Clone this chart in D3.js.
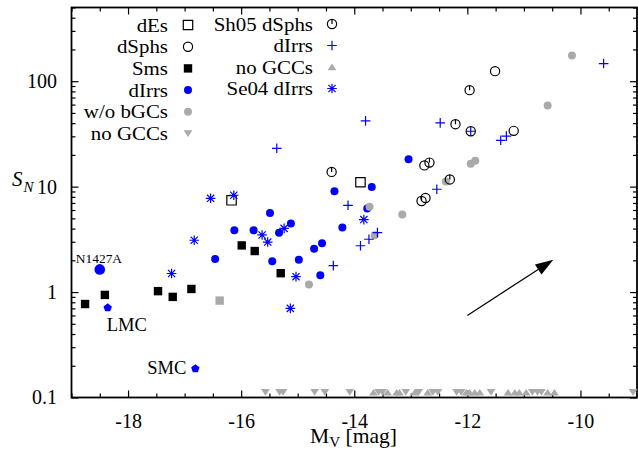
<!DOCTYPE html>
<html>
<head>
<meta charset="utf-8">
<script src="https://cdn.jsdelivr.net/npm/d3@7"></script>
<style>
  body { margin: 0; background: #fff; }
  svg text { font-family: "Liberation Serif", "Times New Roman", serif; fill: #000; }
</style>
</head>
<body>
<div id="chart"></div>
<script>
// each point is [M_V, S_N]
var dEs = [[-16.17, 7.42], [-13.89, 11.0]];
var dSphs = [[-11.51, 124.5], [-11.18, 33.8], [-11.94, 33.5], [-12.74, 7.8], [-12.76, 15.9]];
var sms = [[-18.76, 0.77], [-18.41, 0.94], [-17.47, 1.02], [-17.21, 0.90], [-16.88, 1.07],
           [-15.99, 2.77], [-15.76, 2.45], [-15.30, 1.51]];
var smsGrey = [[-16.38, 0.83]];
var dIrrs = [[-16.46, 2.06], [-16.12, 3.85], [-15.78, 3.85], [-15.49, 5.62], [-15.45, 1.96],
             [-15.33, 3.65], [-15.12, 4.46], [-14.98, 2.02], [-14.71, 2.58], [-14.57, 2.91],
             [-14.60, 1.44], [-14.21, 4.09], [-14.35, 9.03], [-13.77, 6.19], [-13.69, 9.93],
             [-13.04, 18.2]];
var n1427a = [[-18.50, 1.64]];
var magClouds = [[-18.36, 0.71, "LMC"], [-16.81, 0.1875, "SMC"]];
var woBGCs = [[-14.80, 1.18], [-13.73, 6.44], [-13.64, 3.45], [-13.15, 5.43], [-12.38, 11.2],
              [-11.94, 16.5], [-11.86, 17.6], [-10.58, 58.8], [-10.15, 175]];
var noGCCsDown = [-15.57, -15.32, -15.26, -14.70, -14.52, -14.08, -13.57, -13.50, -13.09,
                  -12.86, -12.61, -12.52, -12.19, -12.11, -11.58, -10.85, -10.76, -10.69, -9.07];
var noGCCsUp = [-13.66, -13.41, -13.25, -13.20, -12.93, -12.70, -12.02, -11.96, -11.87,
                -11.78, -11.28, -11.16, -11.08, -10.96, -10.58, -10.46];
var noGCCsLevel = 0.112;
var sh05 = [[-14.40, 13.8], [-12.81, 7.3], [-12.67, 16.9], [-12.31, 11.7], [-12.21, 39.1], [-11.96, 82.2]];
var dIrrsPlus = [[-15.37, 23.1], [-13.80, 42.0], [-12.48, 40.2], [-11.94, 33.5], [-11.41, 27.5],
                 [-11.31, 30.1], [-9.59, 147], [-14.11, 6.65], [-12.54, 9.44], [-13.89, 2.75],
                 [-13.74, 3.17], [-13.59, 3.66], [-14.37, 1.78]];
var se04 = [[-16.54, 7.75], [-16.13, 8.28], [-16.83, 3.10], [-17.23, 1.50], [-15.63, 3.48],
            [-15.53, 2.98], [-15.24, 4.02], [-15.03, 1.40], [-15.13, 0.70], [-13.83, 4.87]];
var arrow = [[-12.0, 0.60], [-10.48, 2.03]];

var legendLeft = ["dEs", "dSphs", "Sms", "dIrrs", "w/o bGCs", "no GCCs"];
var legendRight = ["Sh05 dSphs", "dIrrs", "no GCCs", "Se04 dIrrs"];

var xMajor = [-18, -16, -14, -12, -10];
var yMajor = [0.1, 1, 10, 100];

var W = 638, H = 449;
var blue = "#0000ff", grey = "#aaaaaa";

var svg = d3.select("#chart").append("svg").attr("width", W).attr("height", H);

var x = d3.scaleLinear().domain([-19, -9]).range([71.5, 637]);
var y = d3.scaleLog().domain([0.1, 500]).range([397.5, 7.5]);

// ticks
var xMinor = d3.range(-19, -9, 0.5).filter(function(v) { return xMajor.indexOf(v) < 0; });
var yMinor = [];
yMajor.forEach(function(d) {
  for (var k = 2; k <= 9; k++) if (d * k <= 500) yMinor.push(d * k);
});

function tickAxis(gen, scale, vals, size, tx, ty, labels) {
  var g = svg.append("g").attr("transform", "translate(" + tx + "," + ty + ")")
    .call(gen(scale).tickValues(vals).tickSizeInner(size).tickSizeOuter(0)
      .tickFormat(labels ? function(d) { return String(d); } : "")
      .tickPadding(labels ? labels : 3));
  g.select(".domain").remove();
  g.selectAll("line").attr("stroke", "#000").attr("stroke-width", 1.2);
  g.selectAll("text").attr("font-size", 20).attr("font-family", "Liberation Serif");
  return g;
}

tickAxis(d3.axisBottom, x, xMajor, -7, 0, 397.5, 16);
tickAxis(d3.axisBottom, x, xMinor, -4, 0, 397.5);
tickAxis(d3.axisTop, x, xMajor, -7, 0, 7.5);
tickAxis(d3.axisTop, x, xMinor, -4, 0, 7.5);
tickAxis(d3.axisLeft, y, yMajor, -7, 71.5, 0, 14.5);
tickAxis(d3.axisLeft, y, yMinor, -4, 71.5, 0);
tickAxis(d3.axisRight, y, yMajor, -7, 637, 0);
tickAxis(d3.axisRight, y, yMinor, -4, 637, 0);

svg.append("rect").attr("x", 71.5).attr("y", 7.5).attr("width", 637 - 71.5).attr("height", 390)
  .attr("fill", "none").attr("stroke", "#000").attr("stroke-width", 1.8);

// text helper: the reference type runs a bit wide
function label(tx, ty, size, txt, anchor, sx) {
  return svg.append("text")
    .attr("transform", "translate(" + tx + "," + ty + ") scale(" + (sx || 1) + ",1)")
    .attr("font-size", size).attr("text-anchor", anchor || "start").text(txt);
}

// axis titles
var yl = svg.append("text").attr("x", 12).attr("y", 186).attr("font-size", 21).attr("font-style", "italic");
yl.append("tspan").text("S");
yl.append("tspan").attr("font-size", 15).attr("dy", 6).attr("dx", 1).text("N");

var xl = label(310, 443, 20, "", "start", 1.08);
xl.append("tspan").text("M");
xl.append("tspan").attr("font-size", 14).attr("dy", 4).text("V");
xl.append("tspan").attr("dy", -4).text(" [mag]");

// marker shapes
function shape(type) {
  switch (type) {
    case "square": return "M-4.7,-4.7H4.7V4.7H-4.7Z";
    case "fsquare": return "M-4.2,-4.2H4.2V4.2H-4.2Z";
    case "plus": return "M-4.8,0H4.8M0,-4.8V4.8";
    case "star": return "M-4.8,0H4.8M0,-4.8V4.8M-3.6,-3.6L3.6,3.6M-3.6,3.6L3.6,-3.6";
    case "tdown": return "M-4.4,-3.2L4.4,-3.2L0,3.4Z";
    case "tup": return "M-4.4,3.2L4.4,3.2L0,-3.4Z";
    case "pent":
      var p = [];
      for (var i = 0; i < 5; i++) {
        var a = -Math.PI / 2 + i * 2 * Math.PI / 5;
        p.push((4.4 * Math.cos(a)).toFixed(2) + "," + (4.4 * Math.sin(a)).toFixed(2));
      }
      return "M" + p.join("L") + "Z";
  }
}

function drawMark(g, type, px, py) {
  if (type === "ocircle" || type === "sh05") {
    g.append("circle").attr("cx", px).attr("cy", py).attr("r", 4.6)
      .attr("fill", "none").attr("stroke", "#000").attr("stroke-width", 1.2);
    if (type === "sh05")
      g.append("line").attr("x1", px).attr("x2", px).attr("y1", py - 4.6).attr("y2", py)
        .attr("stroke", "#000").attr("stroke-width", 1.2);
    return;
  }
  var st = {
    square: { fill: "none", stroke: "#000" },
    fsquare: { fill: "#000", stroke: "none" },
    fsquareGrey: { fill: grey, stroke: "none", path: "fsquare" },
    bdot: { circle: 4, fill: blue },
    gdot: { circle: 4, fill: grey },
    bigdot: { circle: 5.3, fill: blue },
    plus: { fill: "none", stroke: blue },
    star: { fill: "none", stroke: blue },
    tdown: { fill: grey, stroke: "none" },
    tup: { fill: grey, stroke: "none" },
    pent: { fill: blue, stroke: "none" }
  }[type];
  if (st.circle) {
    g.append("circle").attr("cx", px).attr("cy", py).attr("r", st.circle).attr("fill", st.fill);
    return;
  }
  g.append("path").attr("d", shape(st.path || type))
    .attr("transform", "translate(" + px + "," + py + ")")
    .attr("fill", st.fill).attr("stroke", st.stroke).attr("stroke-width", 1.2);
}

var marks = svg.append("g");
function plot(data, type) {
  data.forEach(function(d) { drawMark(marks, type, x(d[0]), y(d[1])); });
}

plot(dEs, "square");
plot(dSphs, "ocircle");
plot(sms, "fsquare");
plot(smsGrey, "fsquareGrey");
plot(dIrrs, "bdot");
plot(n1427a, "bigdot");
plot(magClouds, "pent");
plot(woBGCs, "gdot");
plot(noGCCsDown.map(function(v) { return [v, noGCCsLevel]; }), "tdown");
plot(sh05, "sh05");
plot(dIrrsPlus, "plus");
plot(noGCCsUp.map(function(v) { return [v, noGCCsLevel]; }), "tup");
plot(se04, "star");

// galaxy labels
label(x(n1427a[0][0]) - 24, y(n1427a[0][1]) - 6, 12, "N1427A", "start", 1.12);
label(x(magClouds[0][0]) - 1, y(magClouds[0][1]) + 23, 18, magClouds[0][2], "start", 1.03);
label(x(magClouds[1][0]) - 9, y(magClouds[1][1]) + 5, 18, magClouds[1][2], "end", 1.03);

// arrow
var ax0 = x(arrow[0][0]), ay0 = y(arrow[0][1]), ax1 = x(arrow[1][0]), ay1 = y(arrow[1][1]);
var len = Math.hypot(ax1 - ax0, ay1 - ay0), ux = (ax1 - ax0) / len, uy = (ay1 - ay0) / len;
var hl = 18, hw = 6;
var bx = ax1 - ux * hl, by = ay1 - uy * hl;
svg.append("line").attr("x1", ax0).attr("y1", ay0).attr("x2", bx).attr("y2", by)
  .attr("stroke", "#000").attr("stroke-width", 1.2);
svg.append("path")
  .attr("d", "M" + ax1 + "," + ay1 + "L" + (bx - uy * hw) + "," + (by + ux * hw) +
    "L" + (bx + uy * hw) + "," + (by - ux * hw) + "Z")
  .attr("fill", "#000");

// legend
var legTypes = ["square", "ocircle", "fsquare", "bdot", "gdot", "tdown"];
var legTypesR = ["sh05", "plus", "tup", "star"];
var lg = svg.append("g");
legendLeft.forEach(function(t, i) {
  var ly = 25 + i * 21.7;
  label(168, ly + 6.5, 19, t, "end", 1.1);
  drawMark(lg, legTypes[i], 188, ly);
});
legendRight.forEach(function(t, i) {
  var ly = 24 + i * 21.5;
  label(313, ly + 6.5, 19, t, "end", 1.1);
  drawMark(lg, legTypesR[i], 332, ly);
});
</script>
</body>
</html>
